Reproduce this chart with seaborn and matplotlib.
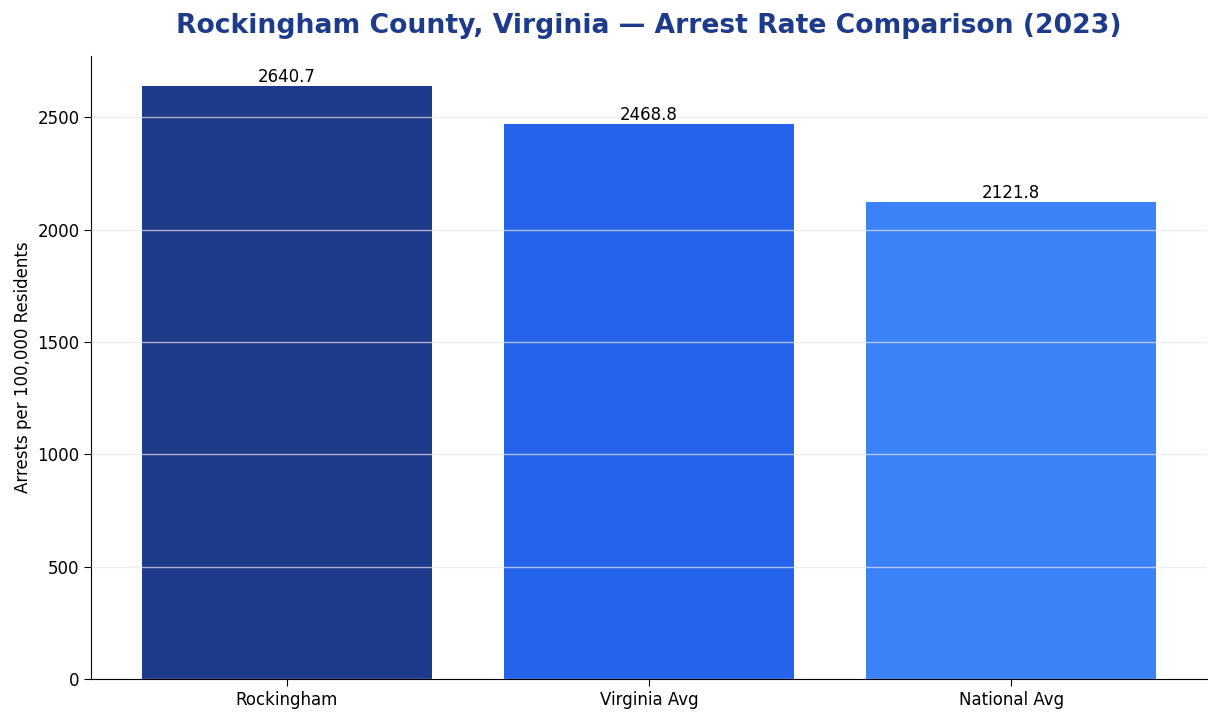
import matplotlib
matplotlib.use("Agg")
import matplotlib.pyplot as plt
import seaborn as sns
import pandas as pd

# arrest rates per 100,000 residents (2023)
areas = ["Rockingham", "Virginia Avg", "National Avg"]
rates = [2640.7, 2468.8, 2121.8]
colors = ["#1e3a8a", "#2563eb", "#3b82f6"]

df = pd.DataFrame({"area": areas, "rate": rates})

sns.set_style("ticks", {"axes.edgecolor": "black", "text.color": "black",
                        "axes.labelcolor": "black", "xtick.color": "black",
                        "ytick.color": "black"})
plt.rcParams['font.family'] = ['DejaVu Sans']

fig, ax = plt.subplots(figsize=(12.19, 7.2), dpi=100)
sns.barplot(data=df, x="area", y="rate", hue="area", palette=colors,
            width=0.8, saturation=1, legend=False, linewidth=0, ax=ax)

ax.set_xlim(-0.54, 2.54)
ax.set_ylim(0, max(rates) * 1.05)

# value labels on top of bars
for i, v in enumerate(rates):
    ax.text(i, v, f"{v:.1f}", ha="center", va="bottom", fontsize=12,
            color="black")

ax.set_axisbelow(False)
ax.yaxis.grid(True, color="#e5e7eb", alpha=0.7, linewidth=1)
sns.despine(ax=ax)
ax.tick_params(axis="both", labelsize=12, length=5, left=True, bottom=True)
ax.set_xlabel("")
ax.set_ylabel("Arrests per 100,000 Residents", fontsize=12)
ax.set_title("Rockingham County, Virginia \u2014 Arrest Rate Comparison (2023)",
             fontsize=19.2, fontweight="bold", color="#1e3a8a", pad=17)

fig.subplots_adjust(left=0.075, right=0.99, top=0.922, bottom=0.057)
fig.savefig("out.png", dpi=100)
